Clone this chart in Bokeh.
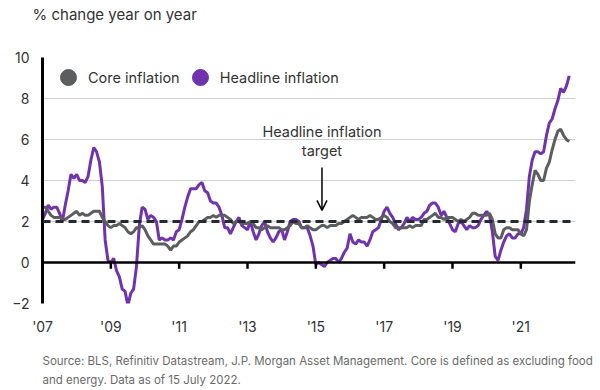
from bokeh.plotting import figure
from bokeh.models import (Range1d, FixedTicker, Span, Arrow, OpenHead, Legend,
                          LegendItem, Title, ColumnDataSource)
from bokeh.core.properties import value
from bokeh.embed import file_html
from bokeh.resources import INLINE

FONT = "Inter"

# Monthly year-on-year CPI, Jan 2007 .. Jun 2022
headline = [
    2.1, 2.4, 2.8, 2.6, 2.7, 2.7, 2.4, 2.0, 2.8, 3.5, 4.3, 4.1,      # 2007
    4.3, 4.0, 4.0, 3.9, 4.2, 5.0, 5.6, 5.4, 4.9, 3.7, 1.1, 0.1,      # 2008
    0.0, 0.2, -0.4, -0.7, -1.3, -1.4, -2.1, -1.5, -1.3, -0.2, 1.8, 2.7,  # 2009
    2.6, 2.1, 2.3, 2.2, 2.0, 1.1, 1.2, 1.1, 1.1, 1.2, 1.1, 1.5,      # 2010
    1.6, 2.1, 2.7, 3.2, 3.6, 3.6, 3.6, 3.8, 3.9, 3.5, 3.4, 3.0,      # 2011
    2.9, 2.9, 2.7, 2.3, 1.7, 1.7, 1.4, 1.7, 2.0, 2.2, 1.8, 1.7,      # 2012
    1.6, 2.0, 1.5, 1.1, 1.4, 1.8, 2.0, 1.5, 1.2, 1.0, 1.2, 1.5,      # 2013
    1.6, 1.1, 1.5, 2.0, 2.1, 2.1, 2.0, 1.7, 1.7, 1.7, 1.3, 0.8,      # 2014
    -0.1, 0.0, -0.1, -0.2, 0.0, 0.1, 0.2, 0.2, 0.0, 0.2, 0.5, 0.7,   # 2015
    1.4, 1.0, 0.9, 1.1, 1.0, 1.0, 0.8, 1.1, 1.5, 1.6, 1.7, 2.1,      # 2016
    2.5, 2.7, 2.4, 2.2, 1.9, 1.6, 1.7, 1.9, 2.2, 2.0, 2.2, 2.1,      # 2017
    2.1, 2.2, 2.4, 2.5, 2.8, 2.9, 2.9, 2.7, 2.3, 2.5, 2.2, 1.9,      # 2018
    1.6, 1.5, 1.9, 2.0, 1.8, 1.6, 1.8, 1.7, 1.7, 1.8, 2.1, 2.3,      # 2019
    2.5, 2.3, 1.5, 0.3, 0.1, 0.6, 1.0, 1.3, 1.4, 1.2, 1.2, 1.4,      # 2020
    1.4, 1.7, 2.6, 4.2, 5.0, 5.4, 5.4, 5.3, 5.4, 6.2, 6.8, 7.0,      # 2021
    7.5, 7.9, 8.5, 8.3, 8.6, 9.1,                                    # 2022
]
core = [
    2.7, 2.7, 2.5, 2.3, 2.2, 2.2, 2.2, 2.1, 2.1, 2.2, 2.3, 2.4,      # 2007
    2.5, 2.3, 2.4, 2.3, 2.3, 2.4, 2.5, 2.5, 2.5, 2.2, 2.0, 1.8,      # 2008
    1.7, 1.8, 1.8, 1.9, 1.8, 1.7, 1.5, 1.4, 1.5, 1.7, 1.7, 1.8,      # 2009
    1.6, 1.3, 1.1, 0.9, 0.9, 0.9, 0.9, 0.9, 0.8, 0.6, 0.8, 0.8,      # 2010
    1.0, 1.1, 1.2, 1.3, 1.5, 1.6, 1.8, 2.0, 2.0, 2.1, 2.2, 2.2,      # 2011
    2.3, 2.2, 2.3, 2.3, 2.3, 2.2, 2.1, 1.9, 2.0, 2.0, 1.9, 1.9,      # 2012
    1.9, 2.0, 1.9, 1.7, 1.7, 1.6, 1.7, 1.8, 1.7, 1.7, 1.7, 1.7,      # 2013
    1.6, 1.6, 1.7, 1.8, 2.0, 1.9, 1.9, 1.7, 1.7, 1.8, 1.7, 1.6,      # 2014
    1.6, 1.7, 1.8, 1.8, 1.7, 1.8, 1.8, 1.8, 1.9, 1.9, 2.0, 2.1,      # 2015
    2.2, 2.3, 2.2, 2.1, 2.2, 2.2, 2.2, 2.3, 2.2, 2.1, 2.1, 2.2,      # 2016
    2.3, 2.2, 2.0, 1.9, 1.7, 1.7, 1.7, 1.7, 1.7, 1.8, 1.7, 1.8,      # 2017
    1.8, 1.8, 2.1, 2.1, 2.2, 2.3, 2.4, 2.2, 2.2, 2.1, 2.2, 2.2,      # 2018
    2.2, 2.1, 2.0, 2.1, 2.0, 2.1, 2.2, 2.4, 2.4, 2.3, 2.3, 2.3,      # 2019
    2.3, 2.4, 2.1, 1.4, 1.2, 1.2, 1.6, 1.7, 1.7, 1.6, 1.6, 1.6,      # 2020
    1.4, 1.3, 1.6, 3.0, 3.8, 4.5, 4.3, 4.0, 4.0, 4.6, 4.9, 5.5,      # 2021
    6.0, 6.4, 6.5, 6.2, 6.0, 5.9,                                    # 2022
]
start_year = 2007
dates = [start_year + i / 12 for i in range(len(headline))]

x_tick_years = [2007, 2009, 2011, 2013, 2015, 2017, 2019, 2021]
x_tick_labels = ["'07", "'09", "'11", "'13", "'15", "'17", "'19", "'21"]
zero_tick_years = [2009, 2011, 2013, 2015, 2017, 2019, 2021]
y_ticks = [-2, 0, 2, 4, 6, 8, 10]
target = 2.0

ann_x = 2015.18
ann_text = ["Headline inflation", "target"]
ann_text_y = [6.39, 5.46]
arrow_y = (4.63, 2.54)

title_text = "% change year on year"
notes = ["Source: BLS, Refinitiv Datastream, J.P. Morgan Asset Management. Core is defined as excluding food",
         "and energy. Data as of 15 July 2022."]

HEAD_COL = "#7133ad"
CORE_COL = "#5b5d5f"
TEXT_COL = "#333333"

p = figure(width=600, height=390, output_backend="svg", toolbar_location=None,
           x_range=Range1d(2007, 2022.6), y_range=Range1d(-2, 10),
           min_border_left=42, min_border_right=25, min_border_top=57,
           min_border_bottom=87)
p.title = None
p.outline_line_color = None
p.background_fill_color = "white"
p.border_fill_color = "white"

p.xgrid.visible = False
p.ygrid.ticker = FixedTicker(ticks=y_ticks)
p.ygrid.grid_line_color = "#d0d0d0"
p.ygrid.grid_line_width = 1

p.yaxis.ticker = FixedTicker(ticks=y_ticks)
p.yaxis.axis_line_color = "black"
p.yaxis.axis_line_width = 3
p.yaxis.major_tick_line_color = None
p.yaxis.minor_tick_line_color = None
p.yaxis.major_tick_out = 0
p.yaxis.major_label_standoff = 13
p.yaxis.major_label_text_font = FONT
p.yaxis.major_label_text_font_size = "14px"
p.yaxis.major_label_text_color = TEXT_COL

p.xaxis.ticker = FixedTicker(ticks=x_tick_years)
p.xaxis.major_label_overrides = {y: l for y, l in zip(x_tick_years, x_tick_labels)}
p.xaxis.axis_line_color = None
p.xaxis.major_tick_line_color = None
p.xaxis.minor_tick_line_color = None
p.xaxis.major_tick_out = 0
p.xaxis.major_label_standoff = 14
p.xaxis.major_label_text_font = FONT
p.xaxis.major_label_text_font_size = "14px"
p.xaxis.major_label_text_color = TEXT_COL

src = ColumnDataSource(dict(x=dates, headline=headline, core=core))
p.line("x", "headline", source=src, line_color=HEAD_COL, line_width=3)
p.line("x", "core", source=src, line_color=CORE_COL, line_width=3)

# zero line and its ticks
p.add_layout(Span(location=0, dimension="width", line_color="black", line_width=2.5))
p.segment(x0=zero_tick_years, y0=[0] * len(zero_tick_years),
          x1=zero_tick_years, y1=[-0.3] * len(zero_tick_years),
          line_color="black", line_width=2.5)

# target line
p.add_layout(Span(location=target, dimension="width", line_color="#232a33",
                  line_width=3, line_dash="8 5"))

# annotation
p.text(x=[ann_x] * len(ann_text), y=ann_text_y, text=ann_text,
       text_align="center", text_baseline="middle", text_font=value(FONT),
       text_font_size="14.5px", text_color=TEXT_COL)
p.add_layout(Arrow(end=OpenHead(size=10, line_width=1.5, line_color="black"),
                   x_start=ann_x, y_start=arrow_y[0], x_end=ann_x, y_end=arrow_y[1],
                   line_width=1.5, line_color="black"))

# legend (proxy markers placed outside the visible x range)
proxy_x = [1990]
proxy_y = [0]
rc = p.scatter(x=proxy_x, y=proxy_y, size=16, fill_color=CORE_COL, line_color=CORE_COL)
rh = p.scatter(x=proxy_x, y=proxy_y, size=16, fill_color=HEAD_COL, line_color=HEAD_COL)
legend = Legend(items=[LegendItem(label="Core inflation", renderers=[rc]),
                       LegendItem(label="Headline inflation", renderers=[rh])],
                orientation="horizontal", location=(6, 206),
                glyph_width=40, glyph_height=40, label_standoff=0, spacing=-4,
                padding=0, margin=0, border_line_color=None,
                background_fill_alpha=0, label_text_font=FONT,
                label_text_font_size="14.5px", label_text_color=TEXT_COL)
p.add_layout(legend)

# title: a blank spacer next to the frame, then the visible title
p.add_layout(Title(text=" ", text_font_size="15px", standoff=16), "above")
p.add_layout(Title(text=title_text, align="left", offset=-10, text_font=FONT,
                   text_font_size="15px", text_font_style="normal",
                   text_color=TEXT_COL, standoff=-3), "above")

# footnote: a small spacer after the axis, then the two lines
p.add_layout(Title(text=" ", text_font_size="8px", standoff=2), "below")
for line in notes:
    p.add_layout(Title(text=line, align="left", text_font=FONT, text_font_size="11.5px",
                       text_font_style="normal", text_color="#6a6a6a", standoff=3), "below")

open("out.html", "w").write(file_html(p, INLINE))
